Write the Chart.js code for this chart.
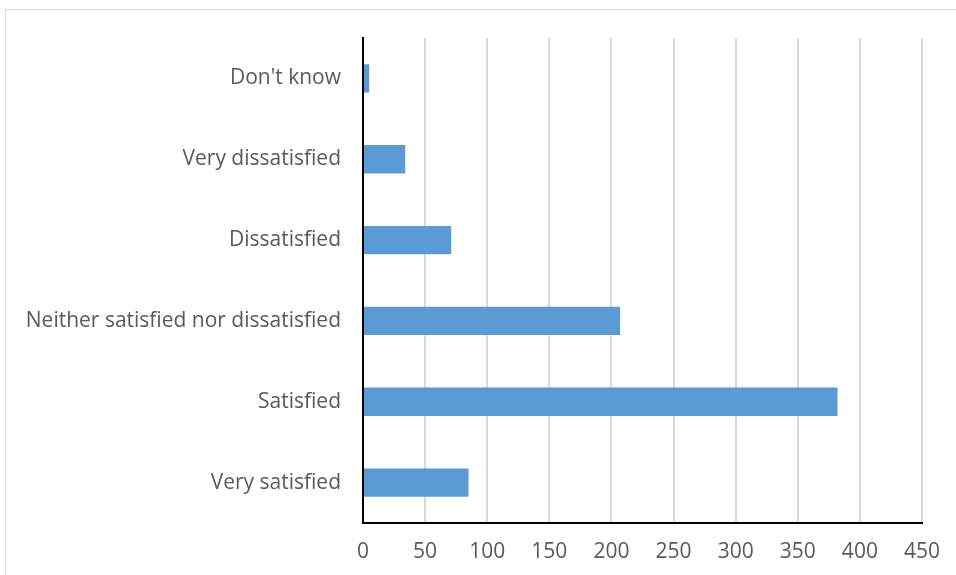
<!DOCTYPE html>
<html>
<head>
<meta charset="utf-8">
<script src="https://cdn.jsdelivr.net/npm/chart.js@4/dist/chart.umd.min.js"></script>
<style>
  html, body { margin: 0; padding: 0; background: #fff; overflow: hidden; }
  #frame { position: absolute; left: 5px; top: 9px; width: 1000px; height: 1000px; border: 1px solid #d9d9d9; box-sizing: border-box; }
  #wrap { position: absolute; left: 0; top: 0; width: 956px; height: 575px; }
</style>
</head>
<body>
<div id="frame"></div>
<div id="wrap"><canvas id="c" width="956" height="575"></canvas></div>
<script>
const categories = ["Don't know", "Very dissatisfied", "Dissatisfied", "Neither satisfied nor dissatisfied", "Satisfied", "Very satisfied"];
const counts = [5, 34, 71, 207, 382, 85];
const xTicks = [0, 50, 100, 150, 200, 250, 300, 350, 400, 450];

const FONT = "'Open Sans', sans-serif";
new Chart(document.getElementById('c'), {
  type: 'bar',
  data: {
    labels: categories,
    datasets: [{
      data: counts,
      backgroundColor: '#5b9bd5',
      borderWidth: 0,
      barPercentage: 0.35,
      categoryPercentage: 1.0
    }]
  },
  options: {
    indexAxis: 'y',
    responsive: false,
    animation: false,
    layout: { padding: { left: 0, right: 34, top: 38, bottom: 0 } },
    plugins: { legend: { display: false }, tooltip: { enabled: false } },
    scales: {
      x: {
        min: xTicks[0],
        max: xTicks[xTicks.length - 1],
        afterBuildTicks: (s) => { s.ticks = xTicks.map(v => ({ value: v })); },
        grid: { color: '#d9d9d9', lineWidth: 2, drawTicks: false },
        border: { display: true, color: '#000', width: 2 },
        ticks: { color: '#595959', font: { family: FONT, size: 21 }, padding: 16 },
        afterFit: (s) => { s.height = 52; }
      },
      y: {
        grid: { display: false, drawTicks: false },
        border: { display: true, color: '#000', width: 2 },
        ticks: { color: '#595959', font: { family: FONT, size: 21 }, padding: 22 },
        afterFit: (s) => { s.width = 363; }
      }
    }
  }
});
</script>
</body>
</html>
